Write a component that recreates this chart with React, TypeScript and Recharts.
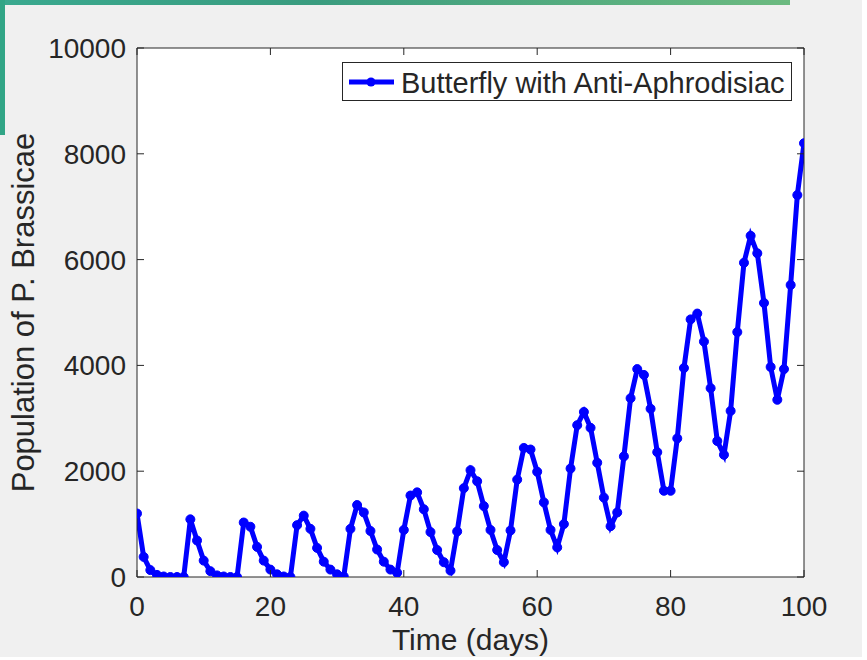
import React from "react";
import {
  LineChart,
  Line,
  XAxis,
  YAxis,
  CartesianGrid,
  Legend,
} from "recharts";

const days: number[] = Array.from({ length: 101 }, (_, i) => i);

const population: number[] = [
  1200, 380, 130, 40, 10, 0, 0, 0,
  1090, 690, 310, 110, 30, 10, 0, 0,
  1030, 950, 570, 310, 140, 50, 10, 0,
  980, 1160, 910, 550, 290, 140, 50, 10,
  910, 1360, 1220, 870, 520, 290, 140, 80,
  890, 1540, 1600, 1280, 850, 510, 280, 120,
  860, 1680, 2020, 1810, 1340, 890, 510, 280,
  880, 1840, 2440, 2410, 1990, 1410, 890, 560,
  1000, 2050, 2870, 3120, 2820, 2160, 1500, 960,
  1220, 2280, 3380, 3930, 3820, 3180, 2360, 1630,
  1630, 2620, 3950, 4870, 4980, 4450, 3570, 2570,
  2310, 3140, 4630, 5940, 6450, 6120, 5180, 3970,
  3350, 3930, 5520, 7220, 8200,
];

const xTicks: number[] = [0, 20, 40, 60, 80, 100];
const yTicks: number[] = [0, 2000, 4000, 6000, 8000, 10000];

const seriesName = "Butterfly with Anti-Aphrodisiac";
const xLabel = "Time (days)";
const yLabel = "Population of P. Brassicae";

const data = days.map((d, i) => ({ day: d, pop: population[i] }));

const FONT = '"Liberation Sans", Arial, Helvetica, sans-serif';
const TEXT = "#262626";
const AXIS = "#262626";
const BLUE = "#0000ff";
const TICK_LEN = 7;

const BottomTick = (props: any) => {
  const { x, y, payload } = props;
  return (
    <g>
      <line x1={x} y1={y} x2={x} y2={y - TICK_LEN} stroke={AXIS} strokeWidth={1} />
      <text x={x} y={y + 39} textAnchor="middle" fontSize={28} fontFamily={FONT} fill={TEXT}>
        {payload.value}
      </text>
    </g>
  );
};

const TopTick = (props: any) => {
  const { x, y } = props;
  return <line x1={x} y1={y} x2={x} y2={y + TICK_LEN} stroke={AXIS} strokeWidth={1} />;
};

const LeftTick = (props: any) => {
  const { x, y, payload } = props;
  return (
    <g>
      <line x1={x} y1={y} x2={x + TICK_LEN} y2={y} stroke={AXIS} strokeWidth={1} />
      <text x={x - 11} y={y + 10} textAnchor="end" fontSize={28} fontFamily={FONT} fill={TEXT}>
        {payload.value}
      </text>
    </g>
  );
};

const RightTick = (props: any) => {
  const { x, y } = props;
  return <line x1={x} y1={y} x2={x - TICK_LEN} y2={y} stroke={AXIS} strokeWidth={1} />;
};

const XLabelContent = (props: any) => {
  const vb = props.viewBox || { x: 137, y: 577, width: 667, height: 83 };
  return (
    <text
      x={vb.x + vb.width / 2}
      y={vb.y + 73}
      textAnchor="middle"
      fontSize={30}
      fontFamily={FONT}
      fill={TEXT}
    >
      {xLabel}
    </text>
  );
};

const YLabelContent = (props: any) => {
  const vb = props.viewBox || { x: 0, y: 48, width: 137, height: 529 };
  const cx = vb.x + 34;
  const cy = vb.y + vb.height / 2;
  return (
    <text
      x={cx}
      y={cy}
      transform={`rotate(-90, ${cx}, ${cy})`}
      textAnchor="middle"
      fontSize={31}
      fontFamily={FONT}
      fill={TEXT}
    >
      {yLabel}
    </text>
  );
};

const LegendContent = () => (
  <div
    style={{
      width: 448,
      height: 37,
      border: `1px solid ${AXIS}`,
      background: "#ffffff",
      position: "relative",
      boxSizing: "content-box",
    }}
  >
    <svg width={448} height={37} style={{ position: "absolute", left: 0, top: 0 }}>
      <line x1={6} y1={19} x2={51} y2={19} stroke={BLUE} strokeWidth={5} />
      <circle cx={28} cy={19} r={4.5} fill={BLUE} />
      <text x={58} y={30} fontSize={29} fontFamily={FONT} fill={TEXT}>
        {seriesName}
      </text>
    </svg>
  </div>
);

export default function App() {
  return (
    <div
      style={{
        position: "absolute",
        left: 0,
        top: 0,
        width: 867,
        height: 660,
        background: "#ffffff",
        overflow: "hidden",
      }}
    >
      <div
        style={{
          position: "absolute",
          left: 0,
          top: 0,
          width: 862,
          height: 657,
          background: "#f0f0f0",
        }}
      />
      <div
        style={{
          position: "absolute",
          left: 0,
          top: 0,
          width: 790,
          height: 5,
          background: "linear-gradient(90deg, #3aa98f 0%, #3a9c7f 40%, #6cba80 100%)",
        }}
      />
      <div
        style={{
          position: "absolute",
          left: 0,
          top: 0,
          width: 5,
          height: 135,
          background: "#31a586",
        }}
      />
      <div style={{ position: "absolute", left: 0, top: 0 }}>
        <LineChart
          width={867}
          height={660}
          data={data}
          margin={{ top: 47, right: 62, bottom: 0, left: 0 }}
        >
          <CartesianGrid fill="#ffffff" horizontal={false} vertical={false} />
          <XAxis
            dataKey="day"
            type="number"
            domain={[0, 100]}
            ticks={xTicks}
            height={83}
            tickSize={0}
            tickMargin={0}
            tickLine={false}
            axisLine={{ stroke: AXIS, strokeWidth: 1 }}
            tick={BottomTick}
            interval={0}
            allowDataOverflow
            label={{ content: XLabelContent }}
          />
          <XAxis
            xAxisId="top"
            orientation="top"
            dataKey="day"
            type="number"
            domain={[0, 100]}
            ticks={xTicks}
            height={1}
            tickSize={0}
            tickMargin={0}
            tickLine={false}
            axisLine={{ stroke: AXIS, strokeWidth: 1 }}
            tick={TopTick}
            interval={0}
            allowDataOverflow
          />
          <YAxis
            type="number"
            domain={[0, 10000]}
            ticks={yTicks}
            width={137}
            tickSize={0}
            tickMargin={0}
            tickLine={false}
            axisLine={{ stroke: AXIS, strokeWidth: 1 }}
            tick={LeftTick}
            interval={0}
            allowDataOverflow
            label={{ content: YLabelContent }}
          />
          <YAxis
            yAxisId="right"
            orientation="right"
            type="number"
            domain={[0, 10000]}
            ticks={yTicks}
            width={1}
            tickSize={0}
            tickMargin={0}
            tickLine={false}
            axisLine={{ stroke: AXIS, strokeWidth: 1 }}
            tick={RightTick}
            interval={0}
            allowDataOverflow
          />
          <Legend
            layout="vertical"
            align="center"
            verticalAlign="middle"
            content={LegendContent}
            wrapperStyle={{ left: 342, top: 62, width: 450, height: 39 }}
          />
          <Line
            type="linear"
            dataKey="pop"
            name={seriesName}
            stroke={BLUE}
            strokeWidth={5}
            dot={{ r: 4.5, fill: BLUE, stroke: BLUE, strokeWidth: 1 }}
            activeDot={false}
            isAnimationActive={false}
          />
        </LineChart>
      </div>
    </div>
  );
}
